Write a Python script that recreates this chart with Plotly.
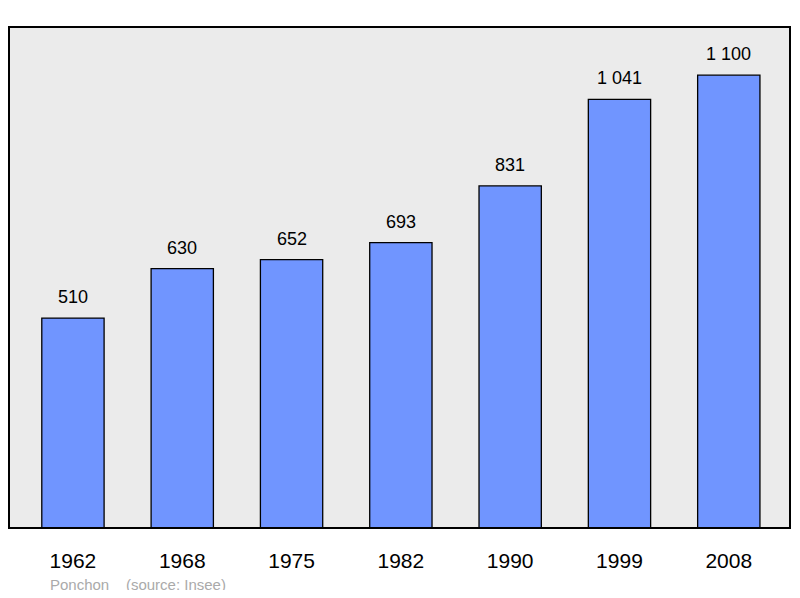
import plotly.graph_objects as go

years = ["1962", "1968", "1975", "1982", "1990", "1999", "2008"]
population = [510, 630, 652, 693, 831, 1041, 1100]
labels = ["510", "630", "652", "693", "831", "1 041", "1 100"]

fig = go.Figure(go.Bar(
    x=list(range(len(years))), y=population,
    marker=dict(color="#7095ff", line=dict(color="black", width=1.3)),
    width=0.57,
))
annotations = [dict(x=i, y=v, text=t, xref="x", yref="y", yanchor="bottom", yshift=9,
                    showarrow=False, font=dict(size=18, color="black"))
               for i, (v, t) in enumerate(zip(population, labels))]
annotations.append(dict(text="Ponchon    (source: Insee)", xref="paper", yref="paper",
                        x=0.05, y=-0.112, xanchor="left", yanchor="middle", showarrow=False,
                        font=dict(size=15, color="#aaaaaa")))
fig.update_layout(
    width=784, height=582, paper_bgcolor="white", plot_bgcolor="#ebebeb",
    margin=dict(l=1, r=2, t=19, b=62), showlegend=False,
    font=dict(family="Liberation Sans", color="black"),
    xaxis=dict(range=[-0.585, 6.56], tickvals=list(range(len(years))), ticktext=years,
               tickfont=dict(size=21), showgrid=False, zeroline=False,
               ticks="outside", ticklen=14, tickcolor="rgba(0,0,0,0)"),
    yaxis=dict(range=[0, 1217], visible=False, showgrid=False),
    shapes=[dict(type="rect", xref="paper", yref="paper", x0=0, x1=1, y0=0, y1=1,
                 line=dict(color="black", width=2), layer="above")],
    annotations=annotations,
)
fig.write_html("out.html")
